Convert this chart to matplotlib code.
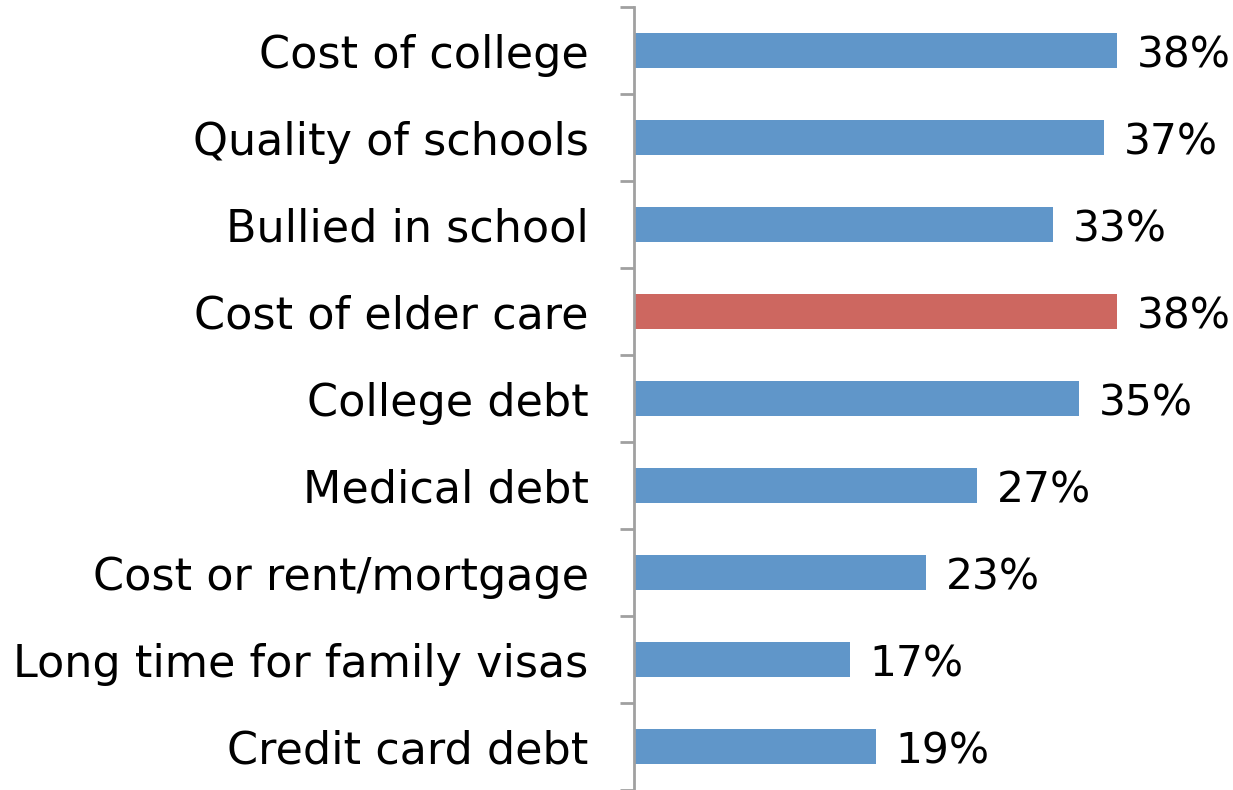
import matplotlib.pyplot as plt

categories = ["Cost of college", "Quality of schools", "Bullied in school",
              "Cost of elder care", "College debt", "Medical debt",
              "Cost or rent/mortgage", "Long time for family visas",
              "Credit card debt"]
values = [38, 37, 33, 38, 35, 27, 23, 17, 19]
colors = ["#6096C9"] * 3 + ["#CD6760"] + ["#6096C9"] * 5

plt.rcParams['font.family'] = ['DejaVu Sans']

fig = plt.figure(figsize=(12.33, 7.9), dpi=100)
ax = fig.add_axes([0.5145, 0.0, 0.412, 0.991])

pos = list(range(len(categories)))
ax.barh(pos, values, height=0.4, color=colors)
ax.set_ylim(len(categories) - 0.5, -0.5)
ax.set_xlim(0, 40)

for y, v in zip(pos, values):
    ax.annotate("%d%%" % v, (v, y), xytext=(14, 0), textcoords="offset points",
                va="center_baseline", ha="left", fontsize=30.5)

ax.set_yticks([p - 0.5 for p in pos] + [len(pos) - 0.5])
ax.set_yticklabels([])
ax.set_yticks(pos, minor=True)
ax.set_yticklabels(categories, minor=True, fontsize=32, va="center_baseline")
ax.tick_params(axis="y", which="minor", length=0, pad=33)
ax.tick_params(axis="y", which="major", length=10, width=2, color="#A0A0A0")
ax.set_xticks([])
for s in ["top", "right", "bottom"]:
    ax.spines[s].set_visible(False)
ax.spines["left"].set_color("#A0A0A0")
ax.spines["left"].set_linewidth(2)

plt.savefig("out.png")
